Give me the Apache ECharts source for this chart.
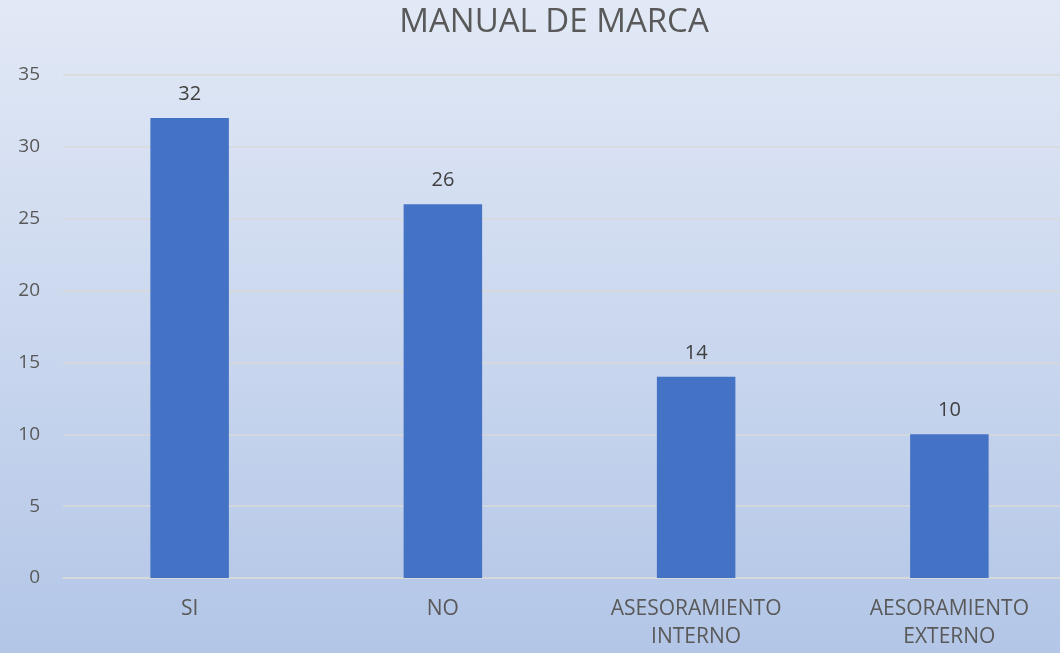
<!DOCTYPE html>
<html><head><meta charset="utf-8">
<script src="https://cdn.jsdelivr.net/npm/echarts@6/dist/echarts.min.js"></script>
<style>html,body{margin:0;padding:0;overflow:hidden;width:1060px;height:653px}#c{width:1076px;height:653px}</style>
</head><body><div id="c"></div>
<script>
const categories = ['SI', 'NO', 'ASESORAMIENTO\nINTERNO', 'AESORAMIENTO\nEXTERNO'];
const values = [32, 26, 14, 10];
const yTicks = [0, 5, 10, 15, 20, 25, 30, 35];
const font = '"Open Sans", "Liberation Sans", sans-serif';
const chart = echarts.init(document.getElementById('c'));
chart.setOption({
  backgroundColor: new echarts.graphic.LinearGradient(0, 0, 0, 1, [
    {offset: 0, color: '#e2e9f6'}, {offset: 1, color: '#b3c6e7'}
  ]),
  animation: false,
  title: {text: 'MANUAL DE MARCA', left: 549, textAlign: 'center', top: 1,
    textStyle: {fontFamily: font, fontSize: 33, fontWeight: 'normal', color: '#595959'}},
  grid: {left: 63, right: 0, top: 75, bottom: 75, containLabel: false},
  xAxis: {type: 'category', data: categories,
    axisLine: {lineStyle: {color: '#d9d9d9', width: 1.5}}, axisTick: {show: false},
    axisLabel: {fontFamily: font, fontSize: 21, color: '#595959', margin: 17, lineHeight: 28}},
  yAxis: {type: 'value', min: yTicks[0], max: yTicks[yTicks.length - 1], interval: 5,
    axisLine: {show: false}, axisTick: {show: false},
    splitLine: {lineStyle: {color: '#d9d9d9', width: 1.5}},
    axisLabel: {fontFamily: font, fontSize: 19, color: '#595959', margin: 23}},
  series: [{type: 'bar', data: values, barWidth: '31%',
    itemStyle: {color: '#4472c4'},
    label: {show: true, position: 'top', distance: 14, fontFamily: font, fontSize: 20, color: '#404040'}}]
});
</script></body></html>
